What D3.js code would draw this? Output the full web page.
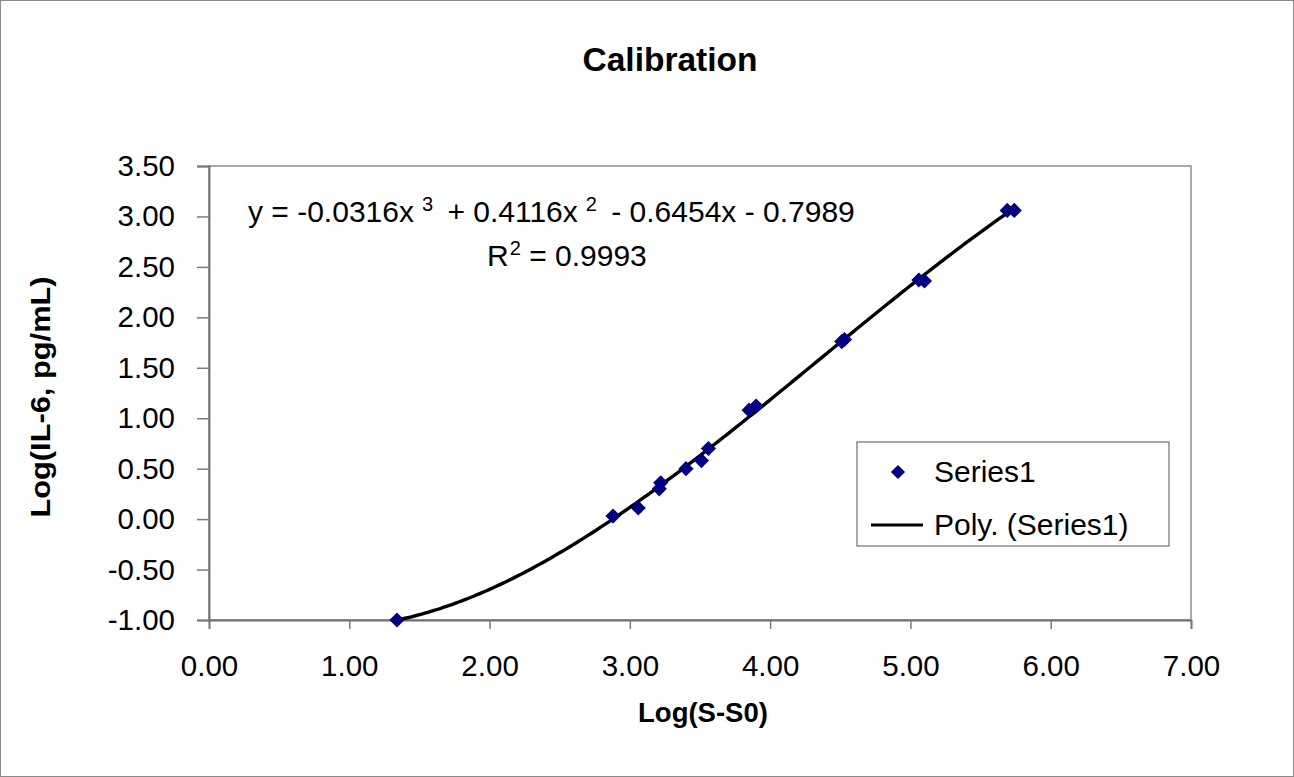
<!DOCTYPE html>
<html>
<head>
<meta charset="utf-8">
<script src="https://cdn.jsdelivr.net/npm/d3@7"></script>
<style>
  html, body { margin: 0; padding: 0; background: #fff; }
  svg { display: block; font-family: Arial, "Liberation Sans", sans-serif; }
</style>
</head>
<body>
<svg id="chart" width="1294" height="777"></svg>
<script>
// ---- data ----
const xValues = [1.34, 2.88, 3.06, 3.21, 3.22, 3.40, 3.51, 3.56, 3.85, 3.90, 4.51, 4.53, 5.06, 5.10, 5.69, 5.74];
const yValues = [-1.00, 0.03, 0.11, 0.30, 0.36, 0.50, 0.58, 0.70, 1.08, 1.12, 1.76, 1.78, 2.37, 2.36, 3.06, 3.06];
const polyCoefficients = [-0.7989, -0.6454, 0.4116, -0.0316]; // c0 + c1 x + c2 x^2 + c3 x^3 (Excel trendline)
const xTicks = [0, 1, 2, 3, 4, 5, 6, 7];
const yTicks = [-1.0, -0.5, 0.0, 0.5, 1.0, 1.5, 2.0, 2.5, 3.0, 3.5];
const titleText = "Calibration";
const xTitle = "Log(S-S0)";
const yTitle = "Log(IL-6, pg/mL)";
const seriesName = "Series1";
const trendName = "Poly. (Series1)";
const rSquared = "0.9993";

const svg = d3.select("#chart");
const W = 1294, H = 777;
const plot = { left: 209, right: 1191, top: 166, bottom: 620 };

// outer chart border
svg.append("rect").attr("x", 0.5).attr("y", 0.5).attr("width", W - 1).attr("height", H - 1)
  .attr("fill", "#fff").attr("stroke", "#8a8a8a").attr("stroke-width", 1);

const x = d3.scaleLinear().domain([xTicks[0], xTicks[xTicks.length - 1]]).range([plot.left, plot.right]);
const y = d3.scaleLinear().domain([yTicks[0], yTicks[yTicks.length - 1]]).range([plot.bottom, plot.top]);

// plot area frame
svg.append("rect").attr("x", plot.left).attr("y", plot.top)
  .attr("width", plot.right - plot.left).attr("height", plot.bottom - plot.top)
  .attr("fill", "none").attr("stroke", "#8c8c8c").attr("stroke-width", 1.5);

// title
svg.append("text").attr("x", 670).attr("y", 71).attr("text-anchor", "middle")
  .attr("font-size", 33.5).attr("font-weight", "bold").attr("fill", "#000").text(titleText);

// axes
const f2 = d3.format(".2f");
const fmt = d => f2(d).replace("\u2212", "-");
const xAxis = svg.append("g").attr("transform", `translate(0,${plot.bottom})`)
  .call(d3.axisBottom(x).tickValues(xTicks).tickFormat(fmt).tickSize(9).tickPadding(26));
const yAxis = svg.append("g").attr("transform", `translate(${plot.left},0)`)
  .call(d3.axisLeft(y).tickValues(yTicks).tickFormat(fmt).tickSize(12).tickPadding(22));
[xAxis, yAxis].forEach(g => {
  g.select(".domain").attr("stroke", "#6e6e6e").attr("stroke-width", 1.8);
  g.selectAll(".tick line").attr("stroke", "#7a7a7a").attr("stroke-width", 1.5);
  g.selectAll(".tick text").attr("font-size", 29.5).attr("fill", "#000")
    .attr("font-family", "Arial, 'Liberation Sans', sans-serif");
});

// axis titles
svg.append("text").attr("x", 703).attr("y", 722).attr("text-anchor", "middle")
  .attr("font-size", 27.5).attr("font-weight", "bold").text(xTitle);
svg.append("text").attr("transform", `translate(50,397) rotate(-90) scale(1.1,1)`).attr("text-anchor", "middle")
  .attr("font-size", 28).attr("font-weight", "bold").text(yTitle);

// trendline
const xMin = d3.min(xValues), xMax = d3.max(xValues);
const poly = v => polyCoefficients.reduce((s, c, i) => s + c * Math.pow(v, i), 0);
const trendPts = d3.range(0, 201).map(i => {
  const xv = xMin + (xMax - xMin) * i / 200;
  return [xv, poly(xv)];
});
svg.append("path").datum(trendPts)
  .attr("d", d3.line().x(d => x(d[0])).y(d => y(d[1])).curve(d3.curveLinear))
  .attr("fill", "none").attr("stroke", "#000").attr("stroke-width", 3.4);

// markers
const diamond = d3.symbol().type(d3.symbolSquare).size(115)();
svg.append("g").selectAll("path").data(xValues.map((v, i) => [v, yValues[i]])).join("path")
  .attr("d", diamond)
  .attr("transform", d => `translate(${x(d[0])},${y(d[1])}) rotate(45)`)
  .attr("fill", "#000080");

// equation text
const eq = svg.append("text").attr("x", 248).attr("y", 222)
  .attr("font-size", 30).attr("fill", "#000");
const c = polyCoefficients;
const sgn = v => (v < 0 ? "- " : "+ ") + Math.abs(v).toFixed(4);
eq.append("tspan").text(`y = ${c[3].toFixed(4)}x`);
eq.append("tspan").attr("dx", 8).attr("dy", -11).attr("font-size", 20).text("3");
eq.append("tspan").attr("dx", 6).attr("dy", 11).text(` ${sgn(c[2])}x`);
eq.append("tspan").attr("dx", 8).attr("dy", -11).attr("font-size", 20).text("2");
eq.append("tspan").attr("dx", 6).attr("dy", 11).text(` ${sgn(c[1])}x ${sgn(c[0])}`);

const r2 = svg.append("text").attr("x", 487).attr("y", 266)
  .attr("font-size", 30).attr("fill", "#000");
r2.append("tspan").text("R");
r2.append("tspan").attr("dx", 1).attr("dy", -11).attr("font-size", 20).text("2");
r2.append("tspan").attr("dy", 11).text(` = ${rSquared}`);

// legend
const lg = svg.append("g");
lg.append("rect").attr("x", 857).attr("y", 442).attr("width", 312).attr("height", 104)
  .attr("fill", "#fff").attr("stroke", "#6e6e6e").attr("stroke-width", 1.2);
lg.append("path").attr("d", d3.symbol().type(d3.symbolSquare).size(100)())
  .attr("transform", "translate(898,472) rotate(45)").attr("fill", "#000080");
lg.append("text").attr("x", 934).attr("y", 482).attr("font-size", 30).text(seriesName);
lg.append("line").attr("x1", 871).attr("x2", 923).attr("y1", 525).attr("y2", 525)
  .attr("stroke", "#000").attr("stroke-width", 3.2);
lg.append("text").attr("x", 934).attr("y", 535).attr("font-size", 30).text(trendName);
</script>
</body>
</html>
